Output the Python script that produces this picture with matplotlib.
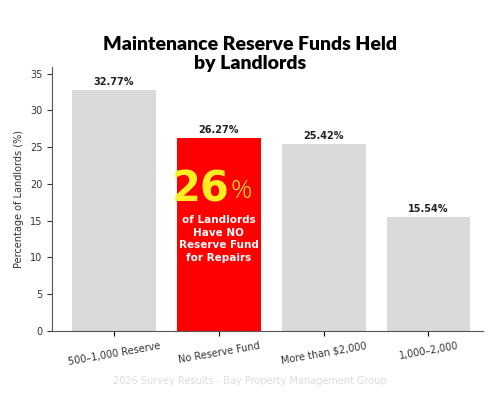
import matplotlib
matplotlib.use("Agg")
import matplotlib.pyplot as plt

categories = ["500–1,000 Reserve", "No Reserve Fund", "More than $2,000", "1,000–2,000"]
values = [32.77, 26.27, 25.42, 15.54]
colors = ["#d9d9d9", "#ff0000", "#d9d9d9", "#d9d9d9"]

fig = plt.figure(figsize=(5, 4), dpi=100)
ax = fig.add_axes([0.104, 0.1725, 0.862, 0.66])
x = range(len(values))
ax.bar(x, values, width=0.8, color=colors)
for i, v in zip(x, values):
    ax.text(i, v + 0.4, f"{v:.2f}%", ha="center", va="bottom", fontsize=7, fontweight="bold", color="#222222")
ax.set_xlim(-0.59, 3.52)
ax.set_ylim(0, 35.9)
ax.set_yticks(range(0, 36, 5))
ax.set_xticks(list(x))
ax.set_xticklabels(categories, rotation=10, fontsize=7, color="#333333")
ax.tick_params(axis="y", labelsize=7, colors="#333333")
ax.set_ylabel("Percentage of Landlords (%)", fontsize=7, color="#333333")
for s in ["top", "right"]:
    ax.spines[s].set_visible(False)
for s in ["left", "bottom"]:
    ax.spines[s].set_color("#555555")

ax.text(1.1, 19.3, "26", ha="right", va="center", fontsize=30, fontweight="heavy",
        color="#ffee22", family="DejaVu Sans Condensed" if False else None)
ax.text(1.11, 19.0, "%", ha="left", va="center", fontsize=19, fontweight="light",
        color="#ffee22", family="Open Sans")
ax.text(1, 12.5, "of Landlords\nHave NO\nReserve Fund\nfor Repairs", ha="center", va="center",
        fontsize=7.5, fontweight="bold", color="white", linespacing=1.3)

fig.text(0.5, 0.865, "Maintenance Reserve Funds Held\nby Landlords", ha="center", va="center",
         fontsize=14, fontweight="heavy", color="black", linespacing=1.1, family="Lato")
fig.text(0.5, 0.047, "2026 Survey Results - Bay Property Management Group", ha="center", va="center",
         fontsize=7, color="#dddddd")
fig.savefig("out.png", dpi=100, facecolor="white")
